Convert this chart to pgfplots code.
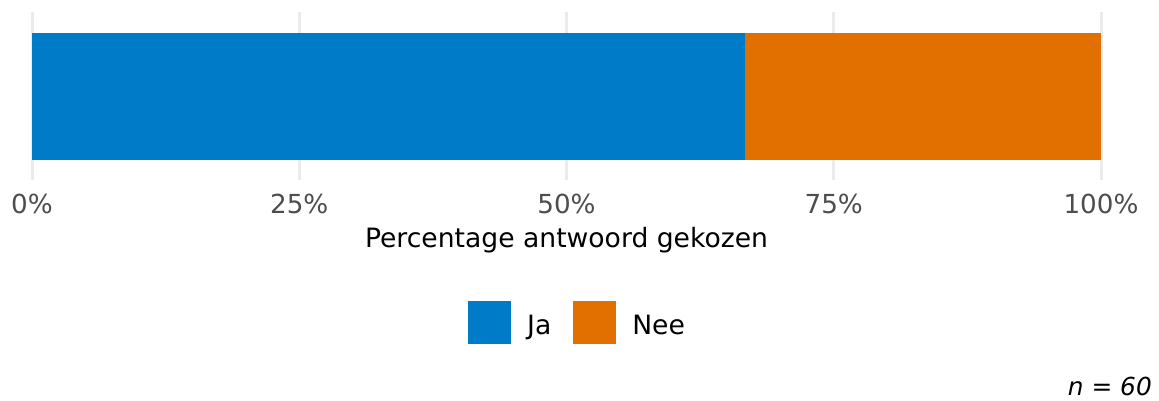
\documentclass[border=0pt]{standalone}
\usepackage{fontspec}
\setmainfont{DejaVu Sans}
\usepackage{pgfplots}
\pgfplotsset{compat=1.18}
\definecolor{jablue}{HTML}{007BC7}
\definecolor{neeorange}{HTML}{E17000}
\definecolor{gridgray}{HTML}{EBEBEB}
\definecolor{ticktext}{HTML}{4D4D4D}
\begin{document}
\begin{tikzpicture}
\useasboundingbox (0,0) rectangle (1159pt,400pt);
\begin{axis}[
  at={(32pt,220pt)}, anchor=south west,
  scale only axis,
  width=1069pt, height=168pt,
  xbar stacked,
  bar width=127pt,
  xmin=0, xmax=100,
  ymin=0.5, ymax=1.5,
  ytick=\empty,
  xtick={0,25,50,75,100},
  xticklabel={\pgfmathprintnumber{\tick}\%},
  /pgf/number format/assume math mode=true,
  xticklabel style={font=\fontsize{26.2}{31}\selectfont, text=ticktext, inner sep=0pt, anchor=base, yshift=-33pt},
  major tick length=0pt,
  axis line style={draw=none},
  xmajorgrids,
  major grid style={draw=gridgray, line width=3pt},
  xlabel={Percentage antwoord gekozen},
  xlabel style={at={(axis description cs:0.5,0)}, anchor=base, yshift=-67pt, inner sep=0pt, font=\fontsize{26.6}{31}\selectfont},
  legend columns=2,
  legend style={at={(rel axis cs:0.408,-0.851)}, anchor=west, draw=none, inner sep=0pt, outer sep=0pt,
    font=\fontsize{26.6}{31}\selectfont,
    nodes={inner sep=0pt},
    /tikz/every even column/.append style={column sep=22pt}},
  legend image code/.code={\fill[#1] (0pt,-19pt) rectangle (43pt,24pt); \path (59pt,0pt);},
]
\addplot[fill=jablue, draw=none] coordinates {(66.67,1)};
\addplot[fill=neeorange, draw=none] coordinates {(33.33,1)};
\legend{Ja, Nee}
\end{axis}
\node[anchor=base east, inner sep=0pt, font=\fontsize{24.8}{30}\selectfont\itshape] at (1152pt,5pt) {n = 60};
\end{tikzpicture}
\end{document}
